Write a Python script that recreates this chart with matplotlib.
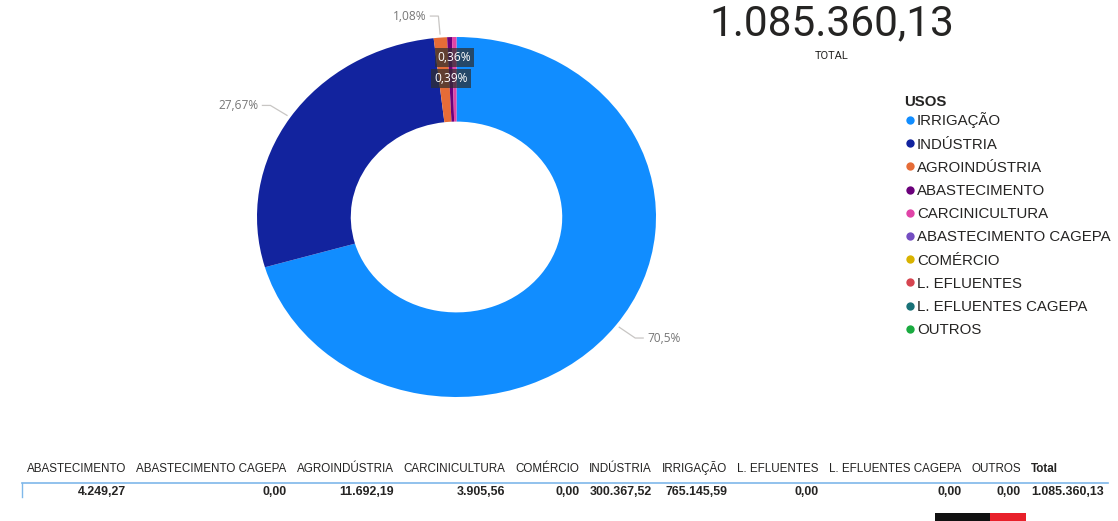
import matplotlib
matplotlib.use("Agg")
import matplotlib.pyplot as plt
import numpy as np

# ── Data ──────────────────────────────────────────────────────────────────────
USOS = ["IRRIGAÇÃO", "INDÚSTRIA", "AGROINDÚSTRIA", "ABASTECIMENTO",
        "CARCINICULTURA", "ABASTECIMENTO CAGEPA", "COMÉRCIO", "L. EFLUENTES",
        "L. EFLUENTES CAGEPA", "OUTROS"]
VOLUMES = [765145.59, 300367.52, 11692.19, 4249.27, 3905.56,
           0.00, 0.00, 0.00, 0.00, 0.00]
COLORS = ["#118DFF", "#12239E", "#E66C37", "#6B007B", "#E044A7",
          "#744EC2", "#D9B300", "#D64550", "#197278", "#1AAB40"]

# table columns (alphabetical, as in the report)
TABLE_COLS = ["ABASTECIMENTO", "ABASTECIMENTO CAGEPA", "AGROINDÚSTRIA",
              "CARCINICULTURA", "COMÉRCIO", "INDÚSTRIA", "IRRIGAÇÃO",
              "L. EFLUENTES", "L. EFLUENTES CAGEPA", "OUTROS"]

TOTAL = sum(VOLUMES)

TEXT = "#252423"
LABEL_GRAY = "#777777"
LEADER = "#c8c6c4"
FONT = ["Liberation Sans", "DejaVu Sans"]


def br(v, dec=2):
    """Brazilian number format: 1.085.360,13"""
    s = f"{v:,.{dec}f}"
    return s.replace(",", "X").replace(".", ",").replace("X", ".")


def pct(v):
    s = f"{100 * v / TOTAL:.2f}".rstrip("0").rstrip(".")
    return s.replace(".", ",") + "%"


W, H = 1118, 521
fig = plt.figure(figsize=(W / 100, H / 100), dpi=100)
fig.patch.set_facecolor("white")

# overlay axes in pixel coordinates for text / table layout
ax0 = fig.add_axes([0, 0, 1, 1])
ax0.set_xlim(0, W)
ax0.set_ylim(H, 0)
ax0.axis("off")

# ── Donut ─────────────────────────────────────────────────────────────────────
cx0, cx1, cy0, cy1 = 257, 656, 37, 397
ax = fig.add_axes([cx0 / W, 1 - cy1 / H, (cx1 - cx0) / W, (cy1 - cy0) / H])
ax.pie(VOLUMES, colors=COLORS, startangle=90, counterclock=False,
       wedgeprops=dict(width=0.47, linewidth=0))
ax.set_aspect("auto")
ax.set_xlim(-1, 1)
ax.set_ylim(-1, 1)
ax.axis("off")

fracs = np.array(VOLUMES) / TOTAL
starts = np.concatenate([[0], np.cumsum(fracs)[:-1]])
mids = starts + fracs / 2
angles = np.deg2rad(90 - mids * 360)

# outside labels with leader lines (first three slices)
for i in range(3):
    a = angles[i]
    x1, y1 = 1.02 * np.cos(a), 1.02 * np.sin(a)
    x2, y2 = 1.12 * np.cos(a), 1.12 * np.sin(a)
    side = 1 if np.cos(a) > 0.0 else -1
    x3 = x2 + side * 0.04
    ax.plot([x1, x2, x3], [y1, y2, y2], color=LEADER, lw=0.9,
            clip_on=False, solid_joinstyle="miter")
    ax.text(x3 + side * 0.02, y2, pct(VOLUMES[i]), ha="left" if side > 0 else "right",
            va="center", fontsize=8.6, color=LABEL_GRAY, family=["Open Sans", "DejaVu Sans"])

# inside boxed labels for tiny slices
for i, r in [(3, 0.77), (4, 0.885)]:
    a = angles[i]
    ax.text(r * np.cos(a), r * np.sin(a), pct(VOLUMES[i]), ha="center", va="center",
            fontsize=8.6, color="white", family=["Open Sans", "DejaVu Sans"],
            bbox=dict(boxstyle="square,pad=0.25", fc="#2e2e2e", ec="none", alpha=0.72))

# ── Card: total ───────────────────────────────────────────────────────────────
ax0.text(832, 35.5, br(TOTAL), ha="center", va="baseline", fontsize=30.5,
         color=TEXT, family=["Roboto", "DejaVu Sans"])
ax0.text(832, 59, "TOTAL", ha="center", va="baseline", fontsize=8,
         color=TEXT, family=["Roboto", "DejaVu Sans"])

# ── Legend ────────────────────────────────────────────────────────────────────
ax0.text(904, 106.5, "USOS", ha="left", va="baseline", fontsize=10.8,
         fontweight="bold", color=TEXT, family=FONT)
for k, (name, col) in enumerate(zip(USOS, COLORS)):
    y = 120 + k * 23.2
    ax0.plot(910, y, "o", ms=6, color=col, mec="none")
    ax0.text(917, y + 5.4, name, ha="left", va="baseline", fontsize=10.8,
             color=TEXT, family=FONT)

# ── Table ─────────────────────────────────────────────────────────────────────
vol_by_name = dict(zip(USOS, VOLUMES))
renderer = fig.canvas.get_renderer()
x = 27
hy, vy = 472.2, 495.4
cols = [(c, br(vol_by_name[c]), False) for c in TABLE_COLS] + [("Total", br(TOTAL), True)]
for head, val, bold in cols:
    th = ax0.text(x, hy, head, ha="left", va="baseline", fontsize=8.4,
                  color=TEXT, family=FONT, fontweight="bold" if bold else "normal")
    tv = ax0.text(0, vy, val, ha="right", va="baseline", fontsize=8.9,
                  color=TEXT, family=FONT, fontweight="bold")
    wh = th.get_window_extent(renderer).width
    wv = tv.get_window_extent(renderer).width
    right = x + max(wh, wv)
    tv.set_x(right)
    x = right + 10

ax0.plot([22, x - 6], [483, 483], color="#7fb8ea", lw=1.2)
ax0.plot([22, 22], [483, 497], color="#7fb8ea", lw=1.0)

# logos (rough)
ax0.add_patch(plt.Rectangle((935, 513), 55, 8, color="#111111", lw=0))
ax0.add_patch(plt.Rectangle((990, 513), 36, 8, color="#e8202a", lw=0))

fig.savefig("out.png", dpi=100, facecolor="white")
